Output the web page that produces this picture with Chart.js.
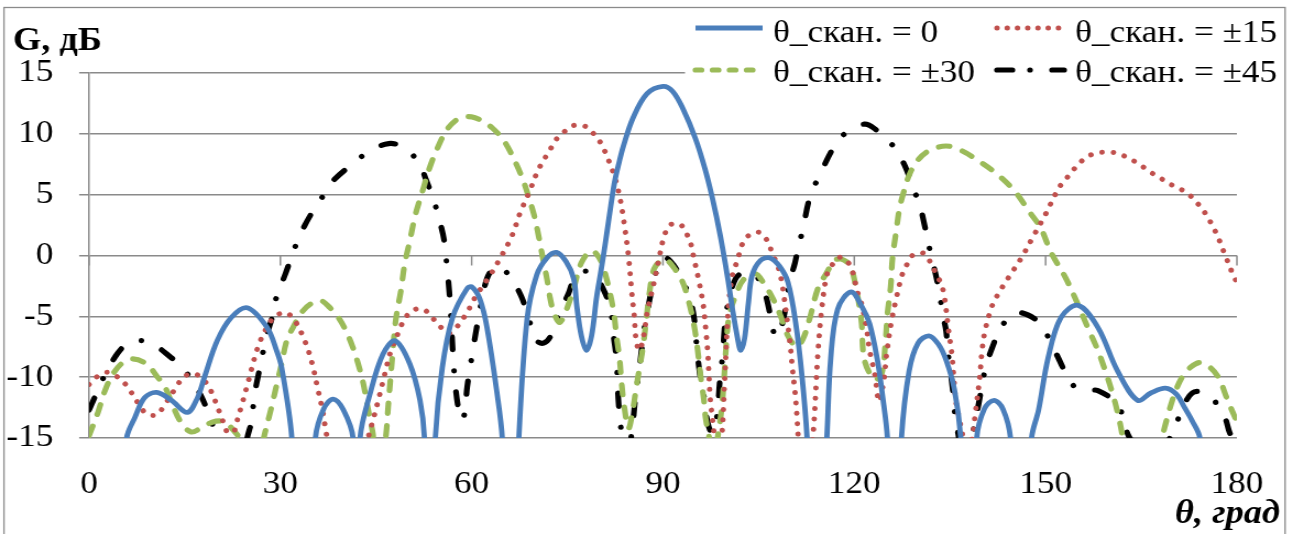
<!DOCTYPE html>
<html>
<head>
<meta charset="utf-8">
<title>G(θ)</title>
<script src="https://cdn.jsdelivr.net/npm/chart.js@4.4.1/dist/chart.umd.min.js"></script>
<style>
    html, body { margin: 0; padding: 0; background: #ffffff; overflow: hidden; }
    /* the original figure is stretched sideways a little, so the canvas is too */
    #wrap { width: 1175px; height: 534px; transform: scaleX(1.10043); transform-origin: 0 0; }
</style>
</head>
<body>
<div id="wrap"><canvas id="gain-chart" width="1175" height="534"></canvas></div>
<script>
// Angle ticks
var xTicks = [0, 30, 60, 90, 120, 150, 180];

// θ_скан. = 0
var scan0X = [0, 3, 5.9, 7.2, 8.7, 10.6, 12.9, 15.4, 17, 18.1, 20.1, 22.3, 24.8, 27.9, 29.4, 30.2, 31.8, 33.6,
    35.5, 36.8, 38.3, 39.9, 41.4, 42, 42.5, 44.1, 46.1, 48, 50.3, 51.9, 52.6, 53.4, 54.3, 55.4, 57, 59.3, 60.1,
    61.3, 62.4, 64, 64.8, 66.1, 67.4, 68.7, 70.2, 71.8, 73.3, 74.8, 76, 76.5, 77.2, 78, 78.8, 79.6, 80.3, 80.9,
    81.6, 82.4, 83.1, 83.8, 85.3, 87.5, 90, 91.5, 93.1, 95.1, 96.6, 97.8, 99, 100.2, 100.9, 101.7, 102.2, 102.8,
    103.4, 104, 105.3, 106.8, 108.3, 109.6, 110.8, 111.8, 112.6, 114.1, 115.7, 116.3, 117.4, 119.5, 121.3, 122.4,
    123.6, 124.4, 125.2, 126.3, 127.4, 128.6, 130, 131.7, 133.2, 134.4, 135.7, 136.7, 138, 139.2, 140.4, 141.9,
    143.3, 144.5, 146.2, 147.8, 148.9, 150.4, 152.4, 155.1, 158.2, 161.3, 164.4, 166.5, 168.8, 170.5, 171.8, 173,
    174.2, 177, 180];
var scan0Y = [-24, -32, -15, -13.3, -11.7, -11.25, -11.9, -12.9, -11.7, -10, -7, -5.1, -4.3, -5.9, -7.8, -9.2, -15, -32,
    -15, -12.6, -11.8, -12.7, -15, -25, -15, -11.3, -8.1, -7, -8.9, -11.9, -15, -28, -15, -9.2, -5.1, -2.7, -2.6,
    -3.6, -5.9, -11.4, -15, -30, -15, -5.2, -1.6, -0.2, 0.25, -0.5, -1.9, -4.2, -6.6, -7.8, -6.6, -3.4, -1.2, 0.8,
    3.3, 6, 7.6, 9, 11.3, 13.3, 13.9, 13.5, 12.1, 9.6, 7.1, 4.6, 1.6, -2, -4.4, -6.8, -7.8, -6.8,
    -3.9, -1.6, -0.4, -0.2, -0.9, -2.2, -5.5, -9.9, -15, -30, -15, -8.5, -4.4, -3, -4.3, -5.6,
    -8.5, -11.4, -15, -28, -15, -9.5, -7.2, -6.6, -7.3, -8.6, -11, -15, -28, -15, -12.6, -11.9,
    -12.6, -15, -28, -15, -12.7, -8.4, -5.1, -4.1, -5.9, -9.5, -11.9, -11.3, -10.9, -11.4, -12.5, -13.6,
    -15, -28, -24];

// θ_скан. = ±15
var scan15X = [0, 1.4, 2.9, 4.5, 5.9, 7.9, 9, 10.6, 11.7, 13.7, 14.8, 16.4, 17.9, 19, 20.4, 21.6, 22.3, 23, 24, 25,
    26.5, 28, 29.2, 30.8, 32.2, 33.9, 35, 35.8, 36.6, 37.2, 37.7, 40.8, 43.8, 44.5, 45.5, 46.4, 47.3, 48.7, 49.5,
    50.8, 52.4, 53.8, 55, 56.4, 57.8, 58.9, 59.8, 60.7, 62.8, 64.5, 66.3, 67.6, 69.1, 70.5, 72.3, 73.2, 74.6,
    76.1, 77.9, 79.3, 80.3, 81.1, 82.4, 83.3, 83.9, 84.6, 85.1, 85.5, 85.8, 86.3, 86.9, 87.6, 88.6, 89.4, 90.2,
    91.1, 92.6, 93.7, 94.4, 94.8, 95.6, 96.3, 96.7, 97, 97.2, 97.4, 97.8, 98.1, 98.6, 99.2, 99.7, 100.3, 100.9,
    101.4, 102, 102.6, 103.6, 105.1, 106.5, 107.1, 107.9, 108.4, 108.8, 109.9, 110.3, 110.7, 111, 111.2, 112.3,
    113.5, 114.3, 114.9, 115.7, 116.5, 117.4, 118.3, 119.5, 120.5, 121.1, 121.9, 122.4, 123.2, 123.9, 124.7, 125,
    125.8, 126.6, 127.5, 128.2, 129.1, 130.8, 132, 132.8, 133.6, 134.1, 134.8, 135.3, 135.6, 135.9, 136.4, 136.9,
    137.7, 138.5, 139, 139.7, 140, 140.5, 141.5, 142.3, 144.2, 146.2, 148.1, 150, 151.5, 152.4, 153.7, 154.8,
    156.2, 157.8, 159.6, 161.3, 163, 164.7, 166.3, 167.9, 169.4, 171, 172.5, 173.8, 175, 176.7, 178.1, 179.5, 180];
var scan15Y = [-10.6, -9.9, -9.6, -10, -10.7, -12.3, -13, -13.1, -12.4, -10.8, -10, -9.7, -10.2, -11, -12.8, -14.5, -15.6, -14, -12.2, -10.3,
    -7.5, -5.8, -5, -4.7, -5.3, -7.1, -8.9, -10.8, -12.7, -14.6, -16, -30, -15, -13.6, -11.6, -9.7, -7.9, -6.1, -5.2,
    -4.5, -4.4, -5.1, -5.8, -6.4, -5.8, -5, -4.2, -3.3, -1.7, -0.2, 1.6, 3.5, 5.3, 7.1, 8.7, 9.5, 10.2,
    10.7, 10.6, 9.9, 9.2, 8.3, 6.5, 4.6, 2.7, -0.1, -3, -5, -7, -7.8, -6.8, -4.5, -2.2, -0.2, 1.6,
    2.5, 2.6, 1.8, 0.9, -0.1, -2, -4, -6, -7.8, -9.7, -11.7, -13.6, -15, -16.5, -15, -10, -4, -1.6,
    -0.8, 0.2, 1.1, 1.7, 1.9, 1.1, 0.2, -0.7, -1.6, -2.7, -7.1, -9.3, -11.2, -13.1, -14.8, -20,
    -15, -8, -4.4, -1.6, -0.8, -0.2, -0.2, -1, -3, -3.9, -5.9, -7.8, -9.7, -12, -10, -8.4,
    -5.5, -3.5, -1.6, -0.8, 0, 0.2, -0.6, -1.5, -2.3, -3.3, -6.2, -8.1, -10, -11.9, -13.3, -14.5,
    -17, -15, -12.9, -9.9, -8, -6.2, -4.3, -3.4, -1.8, -0.2, 1.6, 3.4, 5, 5.8, 6.6, 7.3,
    8, 8.4, 8.5, 8.4, 8, 7.5, 6.9, 6.4, 5.9, 5.5, 5, 4.3, 3.5, 1.9, 0.1, -1.7, -2.2];

// θ_скан. = ±30
var scan30X = [0, 1.4, 2.5, 3.8, 5.3, 6.8, 9, 10.6, 11.9, 13.1, 14.4, 16, 17.8, 19.3, 20.7, 21.6, 22.7, 23.5, 25.4,
    27.4, 28.5, 29.7, 30.2, 31, 32.1, 33.3, 34.7, 36.3, 37.8, 39.1, 40.3, 41.4, 42.2, 43, 43.6, 44.2, 44.5, 45.6,
    46.6, 46.9, 47.6, 48.1, 48.9, 49.5, 50.3, 51.2, 52.3, 53.4, 54.7, 56.2, 58.1, 60, 61.5, 63.2, 65.1, 67.1,
    68.2, 69, 69.8, 70.5, 71.3, 71.8, 72.3, 72.9, 73.8, 74.9, 76, 77.2, 78.8, 80, 80.8, 82.2, 82.7, 83.2, 83.5,
    83.9, 84.6, 85.3, 85.8, 86.3, 86.9, 87.4, 87.9, 88.6, 89.7, 90.4, 91.7, 93.1, 94.1, 94.9, 95.4, 95.9, 96.4,
    96.7, 97.2, 97.9, 98.7, 99.3, 100, 100.4, 101.4, 102.6, 104.5, 105.7, 107.1, 108.4, 109.6, 111, 112, 113,
    114.3, 115.7, 116.9, 118, 119.3, 120.1, 121.1, 121.6, 123.2, 124.3, 124.9, 125.2, 125.7, 126, 126.6, 127.1,
    127.8, 128.6, 129.9, 131.7, 134.4, 136.9, 140, 142.6, 145.3, 147.3, 149.2, 150.9, 153.1, 154.8, 156.6,
    158.2, 159.5, 160.7, 161.6, 162.1, 165.2, 168.3, 169.1, 170.2, 171.4, 172.7, 174.2, 175.8, 177.2, 178.4,
    179.7, 180];
var scan30Y = [-14.8, -12.9, -11.1, -9.7, -8.8, -8.5, -8.9, -9.9, -10.8, -12.3, -13.7, -14.5, -14.1, -13.7, -13.6, -13.8, -14.4, -15, -20,
    -15, -12.7, -10, -8.9, -7, -5.8, -4.7, -4, -3.7, -4.3, -5.1, -6.2, -7.6, -8.9, -10.5, -12.2, -13.8, -14.6, -19,
    -14.6, -12.5, -8.1, -5.3, -2.9, -0.7, 1.2, 3.4, 5.3, 7.2, 8.9, 10.4, 11.3, 11.4, 11.1, 10.5, 9.4, 7.4,
    6, 4.7, 3.3, 1.6, -0.6, -1.9, -3.5, -4.7, -5.5, -4.4, -2.7, -0.6, 0.4, -0.2, -1.2, -4.4, -6.6, -8.5, -10.4,
    -12.3, -14.2, -12.6, -10.9, -9.3, -7.4, -5.2, -3, -1.1, -0.4, -0.3, -1, -2.2, -3.9, -5.8, -7.6, -9.9, -11.8,
    -13.4, -14.8, -17, -14.5, -12.1, -6.8, -4.9, -3.3, -2, -1.5, -2.2, -3.4, -4.9, -6.6, -7.5, -6.8, -5.2,
    -2.7, -1.4, -0.4, -0.3, -0.8, -2.2, -5.3, -8.6, -10.2, -9.7, -7, -4.8, -2.6, -0.2, 2.1, 3.9,
    5.3, 6.6, 7.8, 8.6, 9, 8.6, 7.6, 6.6, 5.2, 3.7, 2.3, 0.2, -1.8, -3.7, -5.9,
    -7.8, -9.7, -11.7, -13.6, -15, -25, -15, -13.3, -11.4, -10, -9.2, -8.8, -9.2, -10.1, -11.7,
    -13.3, -13.6];

// θ_скан. = ±45
var scan45X = [0, 1.2, 2.5, 4.4, 6.1, 7.9, 9.8, 12.9, 14.6, 16.8, 18.4, 19.3, 20.2, 22.3, 24.8, 25.5, 25.9, 26.6,
    27.9, 28.7, 29.4, 30.8, 32.1, 33.2, 34.7, 36.7, 38, 41, 43.8, 47, 49.7, 51.9, 52.8, 54.2, 55.1, 55.7, 56.1,
    56.5, 56.8, 57.1, 57.5, 58.1, 58.6, 59, 59.3, 60, 60.9, 61.7, 62.4, 63.3, 64.3, 65.5, 66.6, 67.9, 69, 70.2,
    71.3, 72.3, 73.6, 75.2, 76.1, 77.7, 79.3, 81.1, 81.8, 82.2, 82.7, 83, 83.3, 83.6, 84.3, 85, 85.3, 85.7, 86.3,
    87, 87.8, 88.6, 89.5, 90.5, 91.7, 92.8, 94.1, 94.9, 95.3, 95.8, 96.4, 97, 97.7, 98.3, 98.6, 98.9, 99.3, 99.8,
    100.4, 101.4, 102.6, 104.2, 105.6, 106.5, 107.3, 107.8, 108.4, 109.2, 109.9, 110.7, 111.2, 112, 113, 115.1,
    116.9, 118.5, 121.6, 123.5, 125.5, 126.3, 128, 129.4, 130.2, 131.1, 132, 132.7, 133.3, 133.9, 134.4, 134.7,
    135.2, 135.5, 135.8, 136.4, 137.3, 138.2, 138.7, 139.5, 140.6, 141.9, 142.9, 145.3, 148.6, 150.1, 151.7,
    153.5, 154.8, 156.5, 158.2, 161.3, 162.1, 163.2, 166.5, 169.5, 170.2, 171.8, 173, 174.5, 176.1, 178.1,
    178.9, 180];
var scan45Y = [-12.7, -11.3, -9.8, -8.1, -7.2, -7, -7.2, -8.4, -9.2, -10.8, -12.5, -13.8, -15, -22, -15, -13.6, -11.6, -9.7,
    -6.5, -5.1, -3.4, -1.5, 0.4, 1.8, 3.3, 4.9, 6, 7.4, 8.5, 9.2, 8.8, 7.4, 6.3, 4.3, 2.6, 1.2, -0.8,
    -3, -5.5, -8.4, -11, -13, -13.5, -12.5, -10.8, -8.4, -5.6, -3.4, -1.9, -1.1, -0.9, -1.4, -2.2, -3.5, -5.3, -7,
    -7.2, -6.7, -4.9, -3.1, -1.9, -1.3, -1.6, -3.3, -4.4, -6.4, -8.5, -11.8, -13.7, -15, -19, -15, -13.7, -11.6, -9.3,
    -6.3, -3.9, -2, -0.5, -0.2, -0.8, -1.8, -3.3, -5.2, -7.5, -9.8, -11.5, -13.7, -14.6, -13.7, -12.6, -10.4, -8.5, -5.2,
    -3.5, -1.9, -1.4, -1.5, -2.5, -4.1, -6.2, -6.7, -6.2, -4.4, -2.1, -0.6, 0.6, 2.3, 4.7, 7.2,
    9, 10, 10.8, 10.3, 9.3, 8.9, 7.3, 5.3, 4.3, 2.3, 0.1, -1.4, -2.9, -4.9, -6.2, -8,
    -10, -11.3, -13.1, -15, -18, -15, -14.3, -12.2, -9.2, -7.2, -6, -4.7, -5.3, -6.4, -8.1,
    -10, -10.9, -11.1, -11.1, -12.2, -13.3, -15, -17, -15, -14.2, -12.2, -11.3, -11.2, -11.7, -13.3,
    -14.6, -15.5];


// Series styles
var axisGrey = '#8a8a8a';
var series = [
    { label: 'θ_скан. = 0', xs: scan0X, ys: scan0Y, color: '#4a7ebb', width: 4.8, dash: [], legendDash: [], cap: 'butt' },
    { label: 'θ_скан. = ±15', xs: scan15X, ys: scan15Y, color: '#c0504d', width: 5, dash: [0.01, 10.4], legendDash: [0.01, 9.3], cap: 'round' },
    { label: 'θ_скан. = ±30', xs: scan30X, ys: scan30Y, color: '#9bbb59', width: 5.2, dash: [10, 12.5], legendDash: [5.5, 10], cap: 'round' },
    { label: 'θ_скан. = ±45', xs: scan45X, ys: scan45Y, color: '#000000', width: 5.2, dash: [13, 21, 0.01, 21], legendDash: [14, 16, 0.01, 20], cap: 'round' }
];


// Legend, axis titles, frame and the 0 dB axis ticks
var chartDecor = {
    id: 'chartDecor',
    beforeDatasetsDraw: function (chart) {
        var ctx = chart.ctx;
        var xs = chart.scales.x;
        var y0 = chart.scales.y.getPixelForValue(0);
        ctx.save();
        ctx.strokeStyle = axisGrey;
        ctx.lineWidth = 1.5;
        xTicks.forEach(function (t) {
            var px = xs.getPixelForValue(t);
            ctx.beginPath();
            ctx.moveTo(px, y0);
            ctx.lineTo(px, y0 + 10);
            ctx.stroke();
        });
        ctx.restore();
    },
    afterDraw: function (chart) {
        var ctx = chart.ctx;
        ctx.save();

        // legend box sits over the top grid line
        ctx.fillStyle = '#ffffff';
        ctx.fillRect(622.5, 9, 544, 82);

        var cols = [{ s: 632, e: 693, t: 702.5 }, { s: 906, e: 967, t: 977 }];
        var rows = [{ line: 28, base: 41.5 }, { line: 70, base: 82 }];
        series.forEach(function (s, i) {
            var c = cols[i % 2], r = rows[Math.floor(i / 2)];
            ctx.strokeStyle = s.color;
            ctx.lineWidth = s.width;
            ctx.lineCap = s.cap;
            ctx.setLineDash(s.legendDash);
            ctx.beginPath();
            ctx.moveTo(c.s, r.line);
            ctx.lineTo(c.e, r.line);
            ctx.stroke();
            ctx.setLineDash([]);
            ctx.fillStyle = '#000000';
            ctx.font = '32px "Liberation Serif", "Times New Roman", serif';
            ctx.textAlign = 'left';
            ctx.textBaseline = 'alphabetic';
            ctx.fillText(s.label, c.t, r.base);
        });

        // axis titles
        ctx.fillStyle = '#000000';
        ctx.font = 'bold 33px "Liberation Serif", "Times New Roman", serif';
        ctx.textAlign = 'left';
        ctx.fillText('G, дБ', 11.8, 50);
        ctx.font = 'italic bold 33px "Liberation Serif", "Times New Roman", serif';
        ctx.textAlign = 'right';
        ctx.fillText('θ, град', 1163, 523);

        // outer frame
        ctx.strokeStyle = axisGrey;
        ctx.lineWidth = 1.3;
        ctx.strokeRect(3.6, 7.5, 1164.2, 560);
        ctx.restore();
    }
};


Chart.defaults.font.family = '"Liberation Serif", "Times New Roman", serif';
Chart.defaults.font.size = 32;
Chart.defaults.color = '#000000';

var ctx1 = document.getElementById('gain-chart').getContext('2d');
var gainChart = new Chart(ctx1, {
    type: 'line',
    data: {
        datasets: series.map(function (s) {
            return {
                label: s.label,
                data: s.xs.map(function (x, i) { return { x: x, y: s.ys[i] }; }),
                borderColor: s.color,
                borderWidth: s.width,
                borderDash: s.dash,
                borderCapStyle: s.cap,
                borderJoinStyle: 'round',
                tension: 0.35,
                pointRadius: 0,
                fill: false,
                clip: 0
            };
        })
    },
    options: {
        responsive: false,
        animation: false,
        layout: { padding: { left: 0, right: 43.6, top: 73, bottom: 0 } },
        plugins: {
            legend: { display: false },
            tooltip: { enabled: false }
        },
        scales: {
            x: {
                type: 'linear',
                min: 0,
                max: 180,
                ticks: { stepSize: 30, padding: 27, maxRotation: 0, autoSkip: false },
                grid: { display: false, drawTicks: false },
                border: { display: false },
                afterFit: function (s) { s.height = 96; }
            },
            y: {
                min: -15,
                max: 15,
                ticks: { stepSize: 5, padding: 23.5 },
                grid: { color: axisGrey, lineWidth: 1.5, tickLength: 9 },
                border: { color: axisGrey, width: 1.5 },
                afterFit: function (s) { s.width = 80.9; }
            }
        }
    },
    plugins: [chartDecor]
});
</script>
</body>
</html>
